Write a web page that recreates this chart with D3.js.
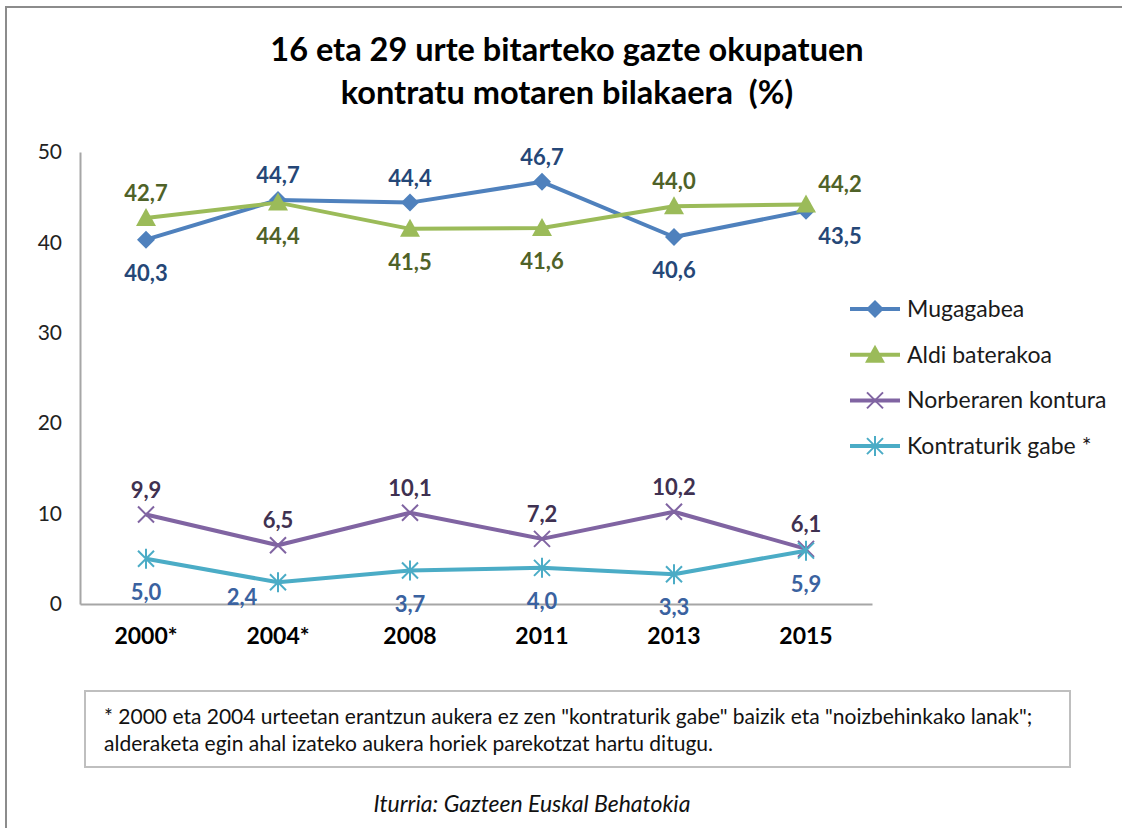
<!DOCTYPE html>
<html>
<head>
<meta charset="utf-8">
<script src="https://cdn.jsdelivr.net/npm/d3@7"></script>
<style>
  body { margin: 0; background: #fff; }
  svg { display: block; font-family: Lato, "Open Sans", sans-serif; }
</style>
</head>
<body>
<div id="chart"></div>
<script>
// datuak
var years = ['2000*', '2004*', '2008', '2011', '2013', '2015']
var mugagabea = [40.3, 44.7, 44.4, 46.7, 40.6, 43.5]
var aldiBaterakoa = [42.7, 44.4, 41.5, 41.6, 44.0, 44.2]
var norberarenKontura = [9.9, 6.5, 10.1, 7.2, 10.2, 6.1]
var kontraturikGabe = [5.0, 2.4, 3.7, 4.0, 3.3, 5.9]
var yTicks = [0, 10, 20, 30, 40, 50]

var W = 1122, H = 828
var margin = {top: 152, right: 250, bottom: 224, left: 80}

// etiketen kokapena: 'a' goian, 'b' behean, 'ra' eskuin-goian, 'rb' eskuin-behean, 'lb' ezker-behean
var series = [
  {name: 'Mugagabea', values: mugagabea, color: '#4F81BD', label: '#254777', marker: 'diamond',
   place: ['b', 'a', 'a', 'a', 'b', 'rb']},
  {name: 'Aldi baterakoa', values: aldiBaterakoa, color: '#9BBB59', label: '#4F6228', marker: 'triangle',
   place: ['a', 'b', 'b', 'b', 'a', 'ra']},
  {name: 'Norberaren kontura', values: norberarenKontura, color: '#8064A2', label: '#3F3151', marker: 'x',
   place: ['a', 'a', 'a', 'a', 'a', 'a']},
  {name: 'Kontraturik gabe *', values: kontraturikGabe, color: '#4BACC6', label: '#3A62A0', marker: 'star',
   place: ['b', 'lb', 'b', 'b', 'b', 'b']},
]

var svg = d3.select('#chart').append('svg')
  .attr('width', W)
  .attr('height', H)

// kanpoko markoa
svg.append('path')
  .attr('d', 'M6,' + H + ' L6,7 L' + W + ',7')
  .attr('fill', 'none')
  .attr('stroke', '#8c8c8c')
  .attr('stroke-width', 2)

// izenburua
var title = svg.append('text')
  .attr('x', 567)
  .attr('text-anchor', 'middle')
  .attr('font-weight', 'bold')
  .attr('font-size', 32.5)
  .attr('fill', '#000')
title.append('tspan').attr('x', 567).attr('y', 61).text('16 eta 29 urte bitarteko gazte okupatuen')
title.append('tspan').attr('x', 567).attr('y', 104).text('kontratu motaren bilakaera\u00a0\u00a0(%)')

var x = d3.scaleBand()
  .domain(years)
  .range([margin.left, W - margin.right])

var y = d3.scaleLinear()
  .domain([0, 50])
  .range([H - margin.bottom, margin.top])

var plot = svg.append('g')

// ardatzak
var yAxis = d3.axisLeft(y).tickValues(yTicks).tickSize(0).tickPadding(18)
plot.append('g')
  .attr('transform', 'translate(' + margin.left + ',0)')
  .call(yAxis)
  .call(function(g) {
    g.select('.domain').attr('stroke', '#a6a6a6').attr('stroke-width', 2)
    g.selectAll('.tick text')
      .attr('font-size', 21)
      .attr('fill', '#222')
      .attr('font-family', 'Lato, sans-serif')
  })

var xAxis = d3.axisBottom(x).tickSize(0).tickPadding(24)
plot.append('g')
  .attr('transform', 'translate(0,' + y(0) + ')')
  .call(xAxis)
  .call(function(g) {
    g.select('.domain').attr('stroke', '#a6a6a6').attr('stroke-width', 2)
    g.selectAll('.tick text')
      .attr('font-size', 23)
      .attr('font-weight', 'bold')
      .attr('fill', '#000')
      .attr('font-family', 'Lato, sans-serif')
  })

var cx = function(i) { return x(years[i]) + x.bandwidth() / 2 }
var fmt = function(v) { return d3.format('.1f')(v).replace('.', ',') }

function drawMarker(g, type, color) {
  if (type === 'diamond') {
    g.append('path').attr('d', 'M0,-9 L9,0 L0,9 L-9,0 Z').attr('fill', color)
  } else if (type === 'triangle') {
    g.append('path').attr('d', 'M0,-10 L10,8 L-10,8 Z').attr('fill', color)
  } else if (type === 'x') {
    g.append('path').attr('d', 'M-8,-8 L8,8 M-8,8 L8,-8')
      .attr('stroke', color).attr('stroke-width', 2).attr('fill', 'none')
  } else if (type === 'star') {
    g.append('path').attr('d', 'M-8,-8 L8,8 M-8,8 L8,-8 M0,-10 L0,10')
      .attr('stroke', color).attr('stroke-width', 2).attr('fill', 'none')
  }
}

var offsets = {
  a: [0, -17], b: [0, 41], ra: [34, -12], rb: [34, 33], lb: [-36, 23]
}

var line = d3.line()
  .x(function(d, i) { return cx(i) })
  .y(function(d) { return y(d) })

series.forEach(function(s) {
  var g = plot.append('g')
  g.append('path')
    .datum(s.values)
    .attr('fill', 'none')
    .attr('stroke', s.color)
    .attr('stroke-width', 4)
    .attr('stroke-linejoin', 'round')
    .attr('d', line)

  s.values.forEach(function(v, i) {
    var m = g.append('g').attr('transform', 'translate(' + cx(i) + ',' + y(v) + ')')
    drawMarker(m, s.marker, s.color)
  })

  g.selectAll('text.lbl')
    .data(s.values)
    .enter()
    .append('text')
    .attr('class', 'lbl')
    .attr('x', function(d, i) { return cx(i) + offsets[s.place[i]][0] })
    .attr('y', function(d, i) { return y(d) + offsets[s.place[i]][1] })
    .attr('text-anchor', 'middle')
    .attr('font-size', 22)
    .attr('font-weight', 'bold')
    .attr('fill', s.label)
    .text(function(d) { return fmt(d) })
})

// legenda
var legend = svg.append('g').attr('transform', 'translate(850,309)')
series.forEach(function(s, i) {
  var row = legend.append('g').attr('transform', 'translate(0,' + (i * 45.7) + ')')
  row.append('line')
    .attr('x1', 0).attr('x2', 50)
    .attr('stroke', s.color).attr('stroke-width', 4)
  var m = row.append('g').attr('transform', 'translate(25,0)')
  drawMarker(m, s.marker, s.color)
  row.append('text')
    .attr('x', 57)
    .attr('y', 8)
    .attr('font-size', 23)
    .attr('fill', '#1a1a1a')
    .text(s.name)
})

// oharra
svg.append('rect')
  .attr('x', 85).attr('y', 691)
  .attr('width', 985).attr('height', 76)
  .attr('fill', '#fff')
  .attr('stroke', '#bfbfbf')
  .attr('stroke-width', 2)
var note = svg.append('text')
  .attr('font-size', 21)
  .attr('fill', '#111')
note.append('tspan').attr('x', 104).attr('y', 724)
  .text('* 2000 eta 2004 urteetan erantzun aukera ez zen "kontraturik gabe" baizik eta "noizbehinkako lanak";')
note.append('tspan').attr('x', 104).attr('y', 751)
  .text('alderaketa egin ahal izateko aukera horiek parekotzat hartu ditugu.')

svg.append('text')
  .attr('x', 532).attr('y', 812)
  .attr('text-anchor', 'middle')
  .attr('font-size', 23)
  .attr('font-style', 'italic')
  .attr('fill', '#111')
  .text('Iturria: Gazteen Euskal Behatokia')
</script>
</body>
</html>
